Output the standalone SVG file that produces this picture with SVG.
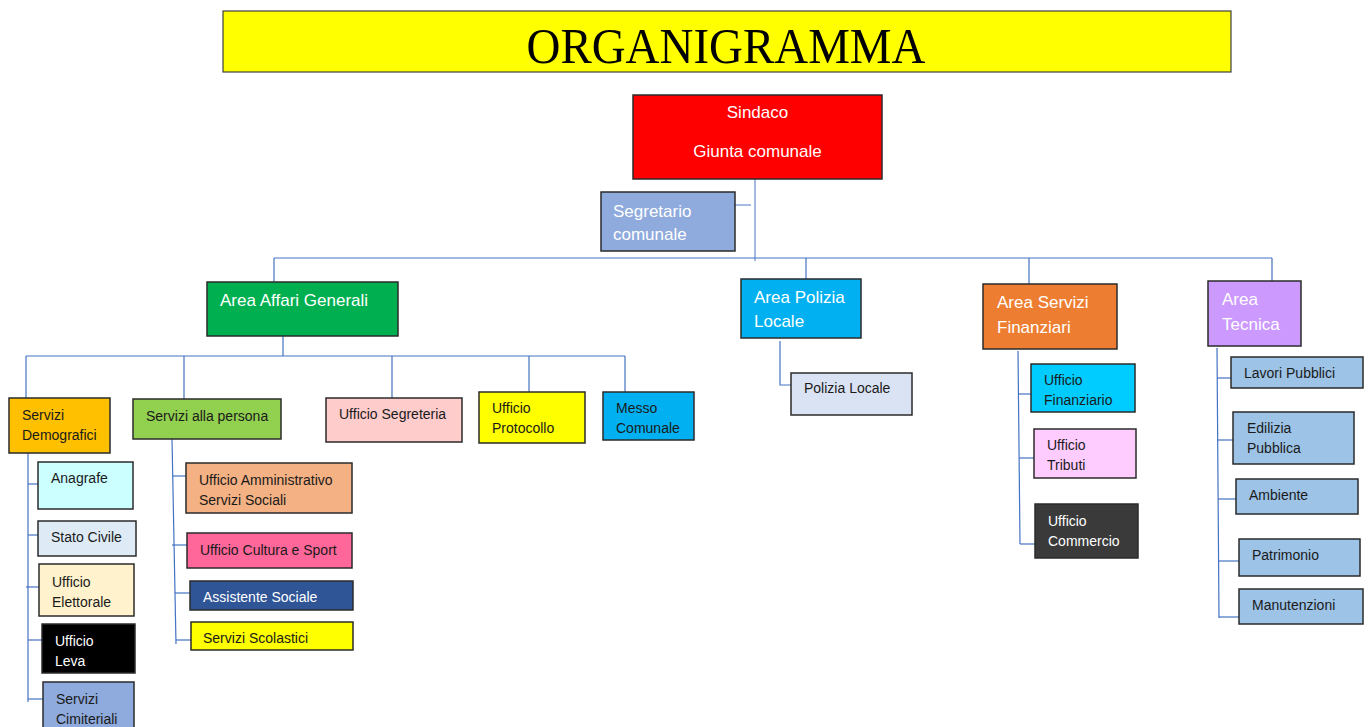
<svg xmlns="http://www.w3.org/2000/svg" width="1370" height="727" viewBox="0 0 1370 727">
<style>
  .box { stroke: #2b2b2b; stroke-width: 1.5; }
  .lt { font-family: "Liberation Sans", Arial, sans-serif; font-size: 17px; fill: #ffffff; }
  .sd { font-family: "Liberation Sans", Arial, sans-serif; font-size: 14px; fill: #1a1a1a; }
  .sw { font-family: "Liberation Sans", Arial, sans-serif; font-size: 14px; fill: #ffffff; }
  .conn path { fill: none; stroke: #4472C4; stroke-width: 1.2; }
  .conn path.light { stroke: #8FAADC; stroke-width: 1.6; }
</style>
<rect width="1370" height="727" fill="#ffffff"/>

<g id="title">
  <rect x="223" y="11" width="1008" height="61" fill="#FFFF00" stroke="#404040" stroke-width="1.2"/>
  <text x="726" y="63" font-family="Liberation Serif, 'Times New Roman', serif" font-size="50" fill="#000000" text-anchor="middle" textLength="399" lengthAdjust="spacingAndGlyphs">ORGANIGRAMMA</text>
</g>

<g class="conn" id="connectors">
  <path class="light" d="M755 179 V261"/>
  <path class="light" d="M735 205 H751"/>
  <path d="M274 258 H1272"/>
  <path d="M274 258 V282"/>
  <path d="M806 258 V279"/>
  <path d="M1029 258 V284"/>
  <path d="M1272 258 V281"/>
  <path d="M283 336 V356"/>
  <path d="M26 356 H625"/>
  <path d="M26 356 V398"/>
  <path d="M184 356 V399"/>
  <path d="M392 356 V398"/>
  <path d="M529 356 V392"/>
  <path d="M625 356 V392"/>
  <path d="M28 453 V702"/>
  <path d="M28 484 H38"/>
  <path d="M28 535 H38"/>
  <path d="M26 587 H39"/>
  <path d="M28 640 H42"/>
  <path d="M28 699 H43"/>
  <path d="M172 439 L176 644"/>
  <path d="M173 476 H186"/>
  <path d="M172 545 H187"/>
  <path d="M175 593 H190"/>
  <path d="M176 640 H191"/>
  <path d="M780 341 V385 H791"/>
  <path d="M1018 351 L1020 544"/>
  <path d="M1018 394 H1031"/>
  <path d="M1019 458 H1034"/>
  <path d="M1020 544 H1035"/>
  <path d="M1217 348 L1219 618"/>
  <path d="M1217 378 H1231"/>
  <path d="M1218 440 H1233"/>
  <path d="M1218 499 H1236"/>
  <path d="M1219 561 H1239"/>
  <path d="M1219 617 H1239"/>
</g>

<g id="sindaco">
  <rect class="box" x="633" y="95" width="249" height="84" fill="#FF0000"/>
  <text class="lt" x="757.5" y="118" text-anchor="middle">Sindaco</text>
  <text class="lt" x="757.5" y="157" text-anchor="middle">Giunta comunale</text>
</g>
<g id="segretario">
  <rect class="box" x="601" y="192" width="134" height="59" fill="#8FAADC"/>
  <text class="lt" x="613" y="217">Segretario</text>
  <text class="lt" x="613" y="240">comunale</text>
</g>

<g id="area-affari-generali">
  <rect class="box" x="207" y="282" width="191" height="54" fill="#00B050"/>
  <text class="lt" x="220" y="306">Area Affari Generali</text>
</g>
<g id="area-polizia-locale">
  <rect class="box" x="741" y="279" width="120" height="59" fill="#00B0F0"/>
  <text class="lt" x="754" y="303">Area Polizia</text>
  <text class="lt" x="754" y="327">Locale</text>
</g>
<g id="area-servizi-finanziari">
  <rect class="box" x="983" y="284" width="134" height="65" fill="#ED7D31"/>
  <text class="lt" x="997" y="308">Area Servizi</text>
  <text class="lt" x="997" y="333">Finanziari</text>
</g>
<g id="area-tecnica">
  <rect class="box" x="1208" y="281" width="93" height="65" fill="#CC99FF"/>
  <text class="lt" x="1222" y="305">Area</text>
  <text class="lt" x="1222" y="330">Tecnica</text>
</g>

<g id="servizi-demografici">
  <rect class="box" x="9" y="398" width="101" height="55" fill="#FFC000"/>
  <text class="sd" x="22" y="420">Servizi</text>
  <text class="sd" x="22" y="440">Demografici</text>
</g>
<g id="servizi-alla-persona">
  <rect class="box" x="133" y="399" width="148" height="40" fill="#92D050"/>
  <text class="sd" x="146" y="421">Servizi alla persona</text>
</g>
<g id="ufficio-segreteria">
  <rect class="box" x="326" y="398" width="136" height="44" fill="#FFCCCC" stroke="#404040"/>
  <text class="sd" x="339" y="419">Ufficio Segreteria</text>
</g>
<g id="ufficio-protocollo">
  <rect class="box" x="479" y="392" width="106" height="51" fill="#FFFF00"/>
  <text class="sd" x="492" y="413">Ufficio</text>
  <text class="sd" x="492" y="433">Protocollo</text>
</g>
<g id="messo-comunale">
  <rect class="box" x="603" y="392" width="91" height="48" fill="#00B0F0"/>
  <text class="sd" x="616" y="413">Messo</text>
  <text class="sd" x="616" y="433">Comunale</text>
</g>

<g id="anagrafe">
  <rect class="box" x="38" y="462" width="95" height="47" fill="#CCFFFF" stroke="#404040"/>
  <text class="sd" x="51" y="483">Anagrafe</text>
</g>
<g id="stato-civile">
  <rect class="box" x="38" y="521" width="98" height="35" fill="#DEEBF7" stroke="#555555"/>
  <text class="sd" x="51" y="542">Stato Civile</text>
</g>
<g id="ufficio-elettorale">
  <rect class="box" x="39" y="564" width="95" height="52" fill="#FFF2CC" stroke="#404040"/>
  <text class="sd" x="52" y="587">Ufficio</text>
  <text class="sd" x="52" y="607">Elettorale</text>
</g>
<g id="ufficio-leva">
  <rect class="box" x="42" y="624" width="93" height="49" fill="#000000"/>
  <text class="sw" x="55" y="646">Ufficio</text>
  <text class="sw" x="55" y="666">Leva</text>
</g>
<g id="servizi-cimiteriali">
  <rect class="box" x="43" y="682" width="91" height="50" fill="#8FAADC"/>
  <text class="sd" x="56" y="704">Servizi</text>
  <text class="sd" x="56" y="724">Cimiteriali</text>
</g>

<g id="ufficio-amministrativo">
  <rect class="box" x="186" y="463" width="166" height="50" fill="#F4B183" stroke="#404040"/>
  <text class="sd" x="199" y="485">Ufficio Amministrativo</text>
  <text class="sd" x="199" y="505">Servizi Sociali</text>
</g>
<g id="ufficio-cultura-sport">
  <rect class="box" x="187" y="533" width="165" height="35" fill="#FF6699"/>
  <text class="sd" x="200" y="555">Ufficio Cultura e Sport</text>
</g>
<g id="assistente-sociale">
  <rect class="box" x="190" y="581" width="163" height="29" fill="#2F5597"/>
  <text class="sw" x="203" y="602">Assistente Sociale</text>
</g>
<g id="servizi-scolastici">
  <rect class="box" x="191" y="622" width="162" height="28" fill="#FFFF00"/>
  <text class="sd" x="203" y="643">Servizi Scolastici</text>
</g>

<g id="polizia-locale">
  <rect class="box" x="791" y="373" width="121" height="42" fill="#DAE3F3" stroke="#404040"/>
  <text class="sd" x="804" y="393">Polizia Locale</text>
</g>

<g id="ufficio-finanziario">
  <rect class="box" x="1031" y="364" width="104" height="48" fill="#00CCFF"/>
  <text class="sd" x="1044" y="385">Ufficio</text>
  <text class="sd" x="1044" y="405">Finanziario</text>
</g>
<g id="ufficio-tributi">
  <rect class="box" x="1034" y="429" width="102" height="49" fill="#FFCCFF"/>
  <text class="sd" x="1047" y="450">Ufficio</text>
  <text class="sd" x="1047" y="470">Tributi</text>
</g>
<g id="ufficio-commercio">
  <rect class="box" x="1035" y="504" width="103" height="54" fill="#3A3A3A"/>
  <text class="sw" x="1048" y="526">Ufficio</text>
  <text class="sw" x="1048" y="546">Commercio</text>
</g>

<g id="lavori-pubblici">
  <rect class="box" x="1231" y="357" width="132" height="31" fill="#9DC3E6" stroke="#404040"/>
  <text class="sd" x="1244" y="378">Lavori Pubblici</text>
</g>
<g id="edilizia-pubblica">
  <rect class="box" x="1233" y="412" width="121" height="52" fill="#9DC3E6" stroke="#404040"/>
  <text class="sd" x="1247" y="433">Edilizia</text>
  <text class="sd" x="1247" y="453">Pubblica</text>
</g>
<g id="ambiente">
  <rect class="box" x="1236" y="479" width="122" height="35" fill="#9DC3E6" stroke="#404040"/>
  <text class="sd" x="1249" y="500">Ambiente</text>
</g>
<g id="patrimonio">
  <rect class="box" x="1239" y="539" width="121" height="37" fill="#9DC3E6" stroke="#404040"/>
  <text class="sd" x="1252" y="560">Patrimonio</text>
</g>
<g id="manutenzioni">
  <rect class="box" x="1239" y="589" width="124" height="35" fill="#9DC3E6" stroke="#404040"/>
  <text class="sd" x="1252" y="610">Manutenzioni</text>
</g>
</svg>
